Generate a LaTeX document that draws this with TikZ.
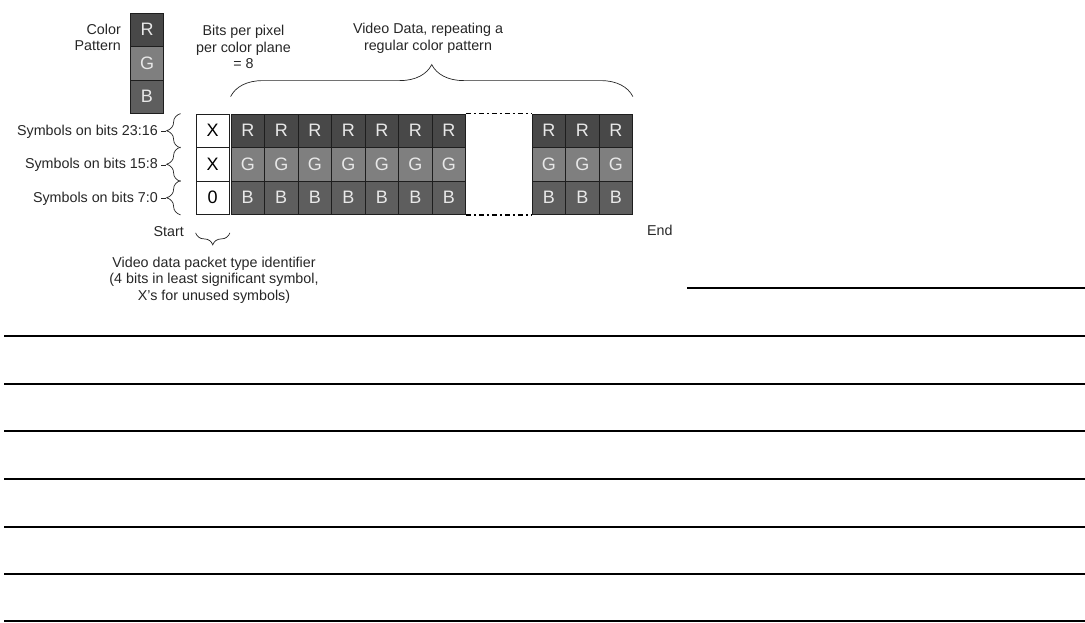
\documentclass[tikz,border=0pt]{standalone}
\usepackage{fontspec}
\setmainfont{Liberation Sans}
\usetikzlibrary{decorations.pathreplacing}
\definecolor{rcol}{HTML}{484848}
\definecolor{gcol}{HTML}{7F7F7F}
\definecolor{bcol}{HTML}{5E5E5E}
\definecolor{lettercol}{HTML}{E8E8E8}
\definecolor{edgecol}{HTML}{1E1E1E}
\begin{document}
\begin{tikzpicture}[x=1pt,y=-1pt,
  cell/.style={draw=edgecol,line width=0.8pt,minimum width=33.5pt,minimum height=33.5pt,inner sep=0pt,font=\fontsize{18}{18}\selectfont,text=lettercol},
  rcell/.style={cell,fill=rcol},
  gcell/.style={cell,fill=gcol},
  bcell/.style={cell,fill=bcol},
  wcell/.style={cell,fill=white,text=black},
  lbl/.style={font=\fontsize{14.3}{16.5}\selectfont,inner sep=0pt,text=black!85},
  brc/.style={decorate,decoration={brace,amplitude=#1},line width=0.7pt,draw=black!85},
  gapline/.style={line width=1.6pt,dash pattern=on 5pt off 3pt on 2pt off 3pt},
  rule/.style={line width=2pt,draw=black}
]
\useasboundingbox (0,0) rectangle (1085,622);

% colour pattern legend
\node[rcell] (pr) at (147,29.75) {R};
\node[gcell] (pg) at (147,63.25) {G};
\node[bcell] (pb) at (147,96.75) {B};
\node[lbl,anchor=east,align=right] (cp) at (121,37.5) {Color\\Pattern};

% header texts
\node[lbl,align=center] (bpp) at (243.5,47) {Bits per pixel\\per color plane\\= 8};
\node[lbl,align=center] (vd) at (428,38.5) {Video Data, repeating a\\regular color pattern};

% start column
\node[wcell] (x1) at (212.75,130.75) {X};
\node[wcell] (x2) at (212.75,164.25) {X};
\node[wcell] (x3) at (212.75,197.75) {0};

% first block of pixels
\foreach \i in {1,...,7} {
  \pgfmathsetmacro{\cx}{247.75+33.5*(\i-1)}
  \node[rcell] (r\i) at (\cx,130.75) {R};
  \node[gcell] (g\i) at (\cx,164.25) {G};
  \node[bcell] (b\i) at (\cx,197.75) {B};
}
% last block of pixels
\foreach \i in {8,9,10} {
  \pgfmathsetmacro{\cx}{548.75+33.5*(\i-8)}
  \node[rcell] (r\i) at (\cx,130.75) {R};
  \node[gcell] (g\i) at (\cx,164.25) {G};
  \node[bcell] (b\i) at (\cx,197.75) {B};
}

% gap (dash-dot edges)
\draw[gapline] (r7.north east) -- (r8.north west);
\draw[gapline] (b7.south east) -- (b8.south west);

% row labels with braces
\node[lbl,anchor=east] (l1) at (158,131.5) {Symbols on bits 23:16};
\node[lbl,anchor=east] (l2) at (158,165) {Symbols on bits 15:8};
\node[lbl,anchor=east] (l3) at (158,198.5) {Symbols on bits 7:0};
\draw[brc=14] ([xshift=-15pt]x1.south west) -- ([xshift=-15pt]x1.north west);
\draw[brc=14] ([xshift=-15pt]x2.south west) -- ([xshift=-15pt]x2.north west);
\draw[brc=14] ([xshift=-15pt]x3.south west) -- ([xshift=-15pt]x3.north west);
\draw[line width=0.7pt,draw=black!85] (l1.east) ++(3,0) -- ++(5,0);
\draw[line width=0.7pt,draw=black!85] (l2.east) ++(3,0) -- ++(5,0);
\draw[line width=0.7pt,draw=black!85] (l3.east) ++(3,0) -- ++(5,0);

% top brace over video data
\draw[brc=32] ([yshift=17pt]r1.north west) -- ([yshift=17pt]r10.north east);

% start / end
\node[lbl,anchor=east] (st) at (184,232) {Start};
\node[lbl,anchor=west] (en) at (647,230) {End};
\draw[brc=12] ([yshift=-18pt]x3.south east) -- ([yshift=-18pt]x3.south west);
\node[lbl,align=center] (pid) at (214,280) {Video data packet type identifier\\(4 bits in least significant symbol,\\X's for unused symbols)};

% ruled lines
\coordinate (a0) at (687,288);
\coordinate (b0) at (1085,288);
\draw[rule] (a0) -- (b0);
\foreach \yy in {336,384,431,479,527,574,621} {
  \draw[rule] (4,\yy) -- (1085,\yy);
}
\end{tikzpicture}
\end{document}
